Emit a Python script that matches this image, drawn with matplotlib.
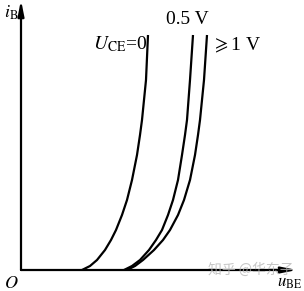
import matplotlib
matplotlib.use("Agg")
import matplotlib.pyplot as plt

plt.rcParams['font.family'] = ['Liberation Serif', 'DejaVu Sans']
plt.rcParams['mathtext.fontset'] = 'stix'

# base current i_B (arbitrary units) shared by all curves
i_B = [0, 4, 10, 20, 30, 40, 55, 70, 90, 115, 135, 150, 190, 235]
# u_BE (arbitrary units) for each U_CE
u_ce0 = [61, 69, 76, 84, 90, 95, 101, 106, 111, 116, 119, 121, 125, 127]
u_ce05 = [103, 111, 119, 128, 135, 141, 147, 152, 157, 161, 164, 166, 169, 172]
u_ce1 = [106, 114, 122, 133, 142, 149, 157, 163, 169, 174, 177, 179, 183, 186]
curve_labels = [r"$U_{\mathrm{CE}}$=0", "0.5 V", r"$\geqslant$1 V"]

fig = plt.figure(figsize=(3.04, 2.91), dpi=100)
ax = fig.add_axes([0, 0, 1, 1])
ax.set_xlim(-21, 283)
ax.set_ylim(-21, 270)
ax.axis('off')

for u in (u_ce0, u_ce05, u_ce1):
    ax.plot(u, i_B, color='black', lw=1.6, solid_joinstyle='round',
            solid_capstyle='butt')

# axes with arrows
ax.annotate('', xy=(276, 0), xytext=(0, 0),
            arrowprops=dict(arrowstyle='-|>,head_length=0.9,head_width=0.18',
                            color='black', lw=1.6, shrinkA=0, shrinkB=0))
ax.annotate('', xy=(0, 270), xytext=(0, 0),
            arrowprops=dict(arrowstyle='-|>,head_length=0.9,head_width=0.18',
                            color='black', lw=1.6, shrinkA=0, shrinkB=0))

ax.text(-17, 257, r"$i_{\mathrm{B}}$", fontsize=13, ha='left', va='center')
ax.text(-10, -13, r"$O$", fontsize=13, ha='center', va='center')
ax.text(281, -13, r"$u_{\mathrm{BE}}$", fontsize=12, ha='right', va='center')

ax.text(126, 226, curve_labels[0], fontsize=14, ha='right', va='center')
ax.text(145, 250, curve_labels[1], fontsize=14, ha='left', va='center')
ax.text(191, 225, curve_labels[2], fontsize=14, ha='left', va='center')

ax.text(230, 0, "知乎 @华东子", fontsize=10, color='#b8b8b8', alpha=0.8,
        ha='center', va='center', family=['Noto Sans CJK SC', 'DejaVu Sans'])

fig.savefig("out.png", dpi=100)
